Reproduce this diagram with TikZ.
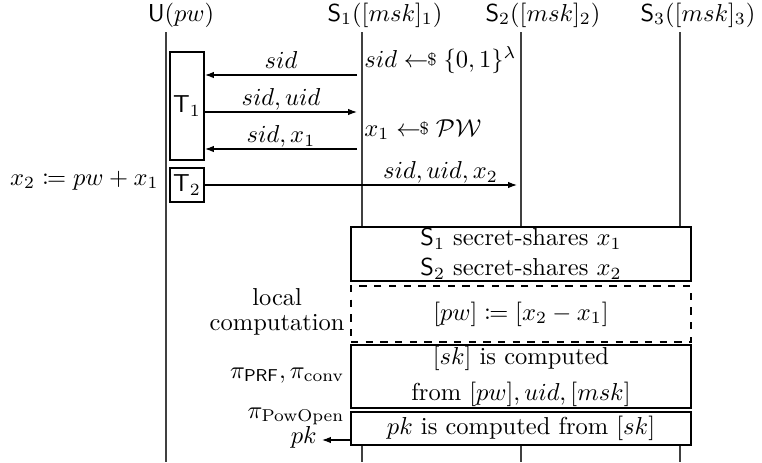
\documentclass[tikz,border=0pt]{standalone}
\usepackage{amsmath,amssymb,mathtools}
\usetikzlibrary{arrows.meta}
\def\pxu{0.4082pt}
\newcommand{\smpl}{\mathrel{\leftarrow\mkern-6mu\raisebox{0.1ex}{\scriptsize\$}}}
\begin{document}
\begin{tikzpicture}[x=0.4082pt,y=-0.4082pt,
  life/.style={draw=black!75, line width=0.5pt},
  msg/.style={-{Latex[length=3.6pt,width=2.6pt]}, line width=0.45pt},
  mlabel/.style={anchor=base, yshift=2.6pt, inner sep=0pt},
  tbox/.style={draw, line width=0.8pt, minimum width=34*\pxu, minimum height=#1*\pxu, inner sep=0pt},
  cbox/.style={draw, line width=0.65pt, fill=white, minimum width=340*\pxu, minimum height=#1*\pxu, align=center, inner sep=0pt},
  side/.style={inner sep=0pt}]
\useasboundingbox (0,0) rectangle (762,462);
% headers
\node[anchor=base] (hU) at (181,21) {$\mathsf{U}(pw)$};
\node[anchor=base] (hS1) at (385,21) {$\mathsf{S}_1([msk]_1)$};
\node[anchor=base] (hS2) at (543,21) {$\mathsf{S}_2([msk]_2)$};
\node[anchor=base] (hS3) at (698,21) {$\mathsf{S}_3([msk]_3)$};
% lifeline ends
\coordinate (Ut) at (166,32);  \coordinate (Ub) at (166,462);
\coordinate (S1t) at (362,32); \coordinate (S1b) at (362,462);
\coordinate (S2t) at (521,32); \coordinate (S2b) at (521,462);
\coordinate (S3t) at (680,32); \coordinate (S3b) at (680,462);
% computation boxes
\node[cbox=54] (B1) at (521,254) {$\mathsf{S}_1$ secret-shares $x_1$\\ $\mathsf{S}_2$ secret-shares $x_2$};
\node[cbox=56, dashed] (B2) at (521,314) {$[pw] \coloneqq [x_2 - x_1]$};
\node[cbox=63] (B3) at (521,376.5) {$[sk]$ is computed\\[2.5pt] from $[pw], uid, [msk]$};
\node[cbox=33] (B4) at (521,428.5) {$pk$ is computed from $[sk]$};
% lifelines
\draw[life] (Ut) -- (Ub);
\draw[life] (S1t) -- (S1t |- B1.north);
\draw[life] (S2t) -- (S2t |- B1.north);
\draw[life] (S3t) -- (S3t |- B1.north);
\draw[life] (S1t |- B4.south) -- (S1b);
\draw[life] (S2t |- B4.south) -- (S2b);
\draw[life] (S3t |- B4.south) -- (S3b);
% user boxes
\node[tbox=108] (T1) at (187,106) {$\mathsf{T}_1$};
\node[tbox=34] (T2) at (187,185) {$\mathsf{T}_2$};
% messages
\coordinate (m1) at (357,75);
\coordinate (m2) at (357,112);
\coordinate (m3) at (357,149);
\coordinate (m4) at (517,185);
\draw[msg] (m1) -- node[mlabel] {$sid$} (T1.east |- m1);
\draw[msg] (T1.east |- m2) -- node[mlabel] {$sid, uid$} (m2);
\draw[msg] (m3) -- node[mlabel] {$sid, x_1$} (T1.east |- m3);
\draw[msg] (T2.east) -- node[mlabel, pos=0.755] {$sid, uid, x_2$} (m4);
% side annotations
\node[side, anchor=base west] (n1) at (364,67) {$sid \smpl \{0,1\}^\lambda$};
\node[side, anchor=base west] (n2) at (364,136) {$x_1 \smpl \mathcal{PW}$};
\node[side, anchor=base east] (n3) at (159,185) {$x_2 \coloneqq pw + x_1$};
\node[side, anchor=east, align=center] (n4) at (345,312) {local\\[-2pt]computation};
\node[side, anchor=base east] (n5) at (345,378) {$\pi_{\mathsf{PRF}}, \pi_{\mathrm{conv}}$};
\node[side, anchor=base east] (n6) at (345,418) {$\pi_{\mathrm{PowOpen}}$};
\node[anchor=base east, inner sep=2pt] (pk) at (322,443) {$pk$};
\coordinate (pks) at (351,440);
\draw[msg] (pks) -- (pk.east |- pks);
\end{tikzpicture}
\end{document}
